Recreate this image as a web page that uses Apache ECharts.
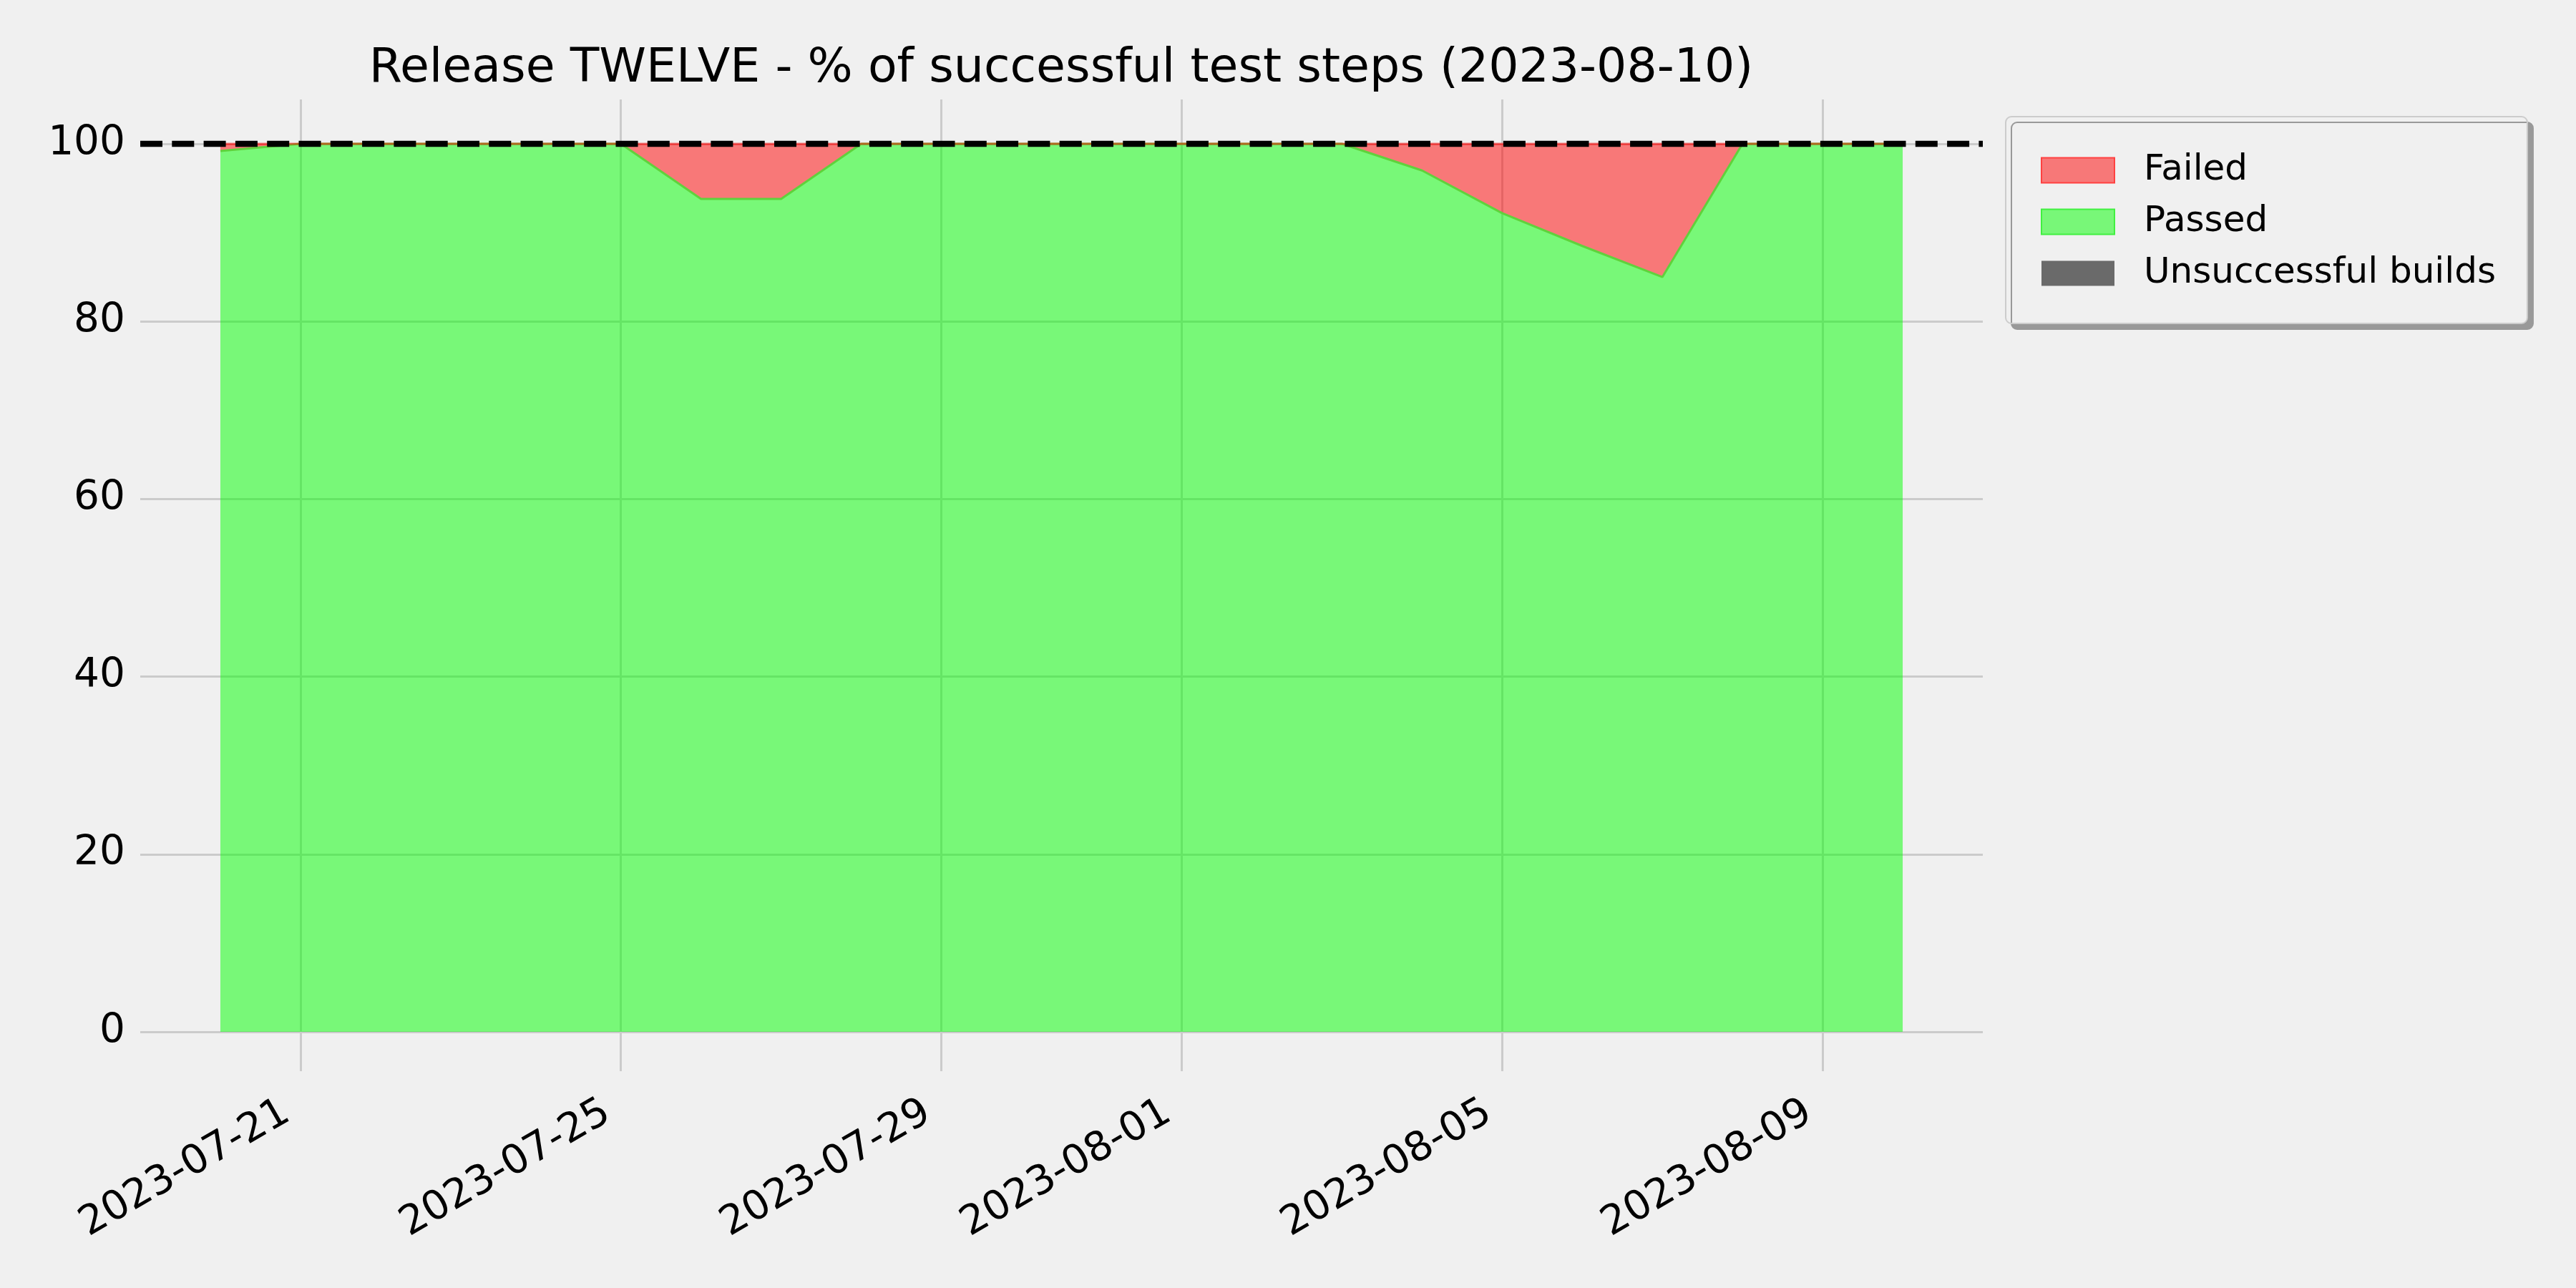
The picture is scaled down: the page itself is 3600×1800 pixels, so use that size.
<!DOCTYPE html>
<html>
<head>
<meta charset="utf-8">
<script src="https://cdn.jsdelivr.net/npm/echarts@6/dist/echarts.min.js"></script>
<style>
html,body{margin:0;padding:0;background:#f0f0f0;}
#chart{width:3600px;height:1800px;}
</style>
</head>
<body>
<div id="chart"></div>
<script>
// ---- data ----
const dates = ['2023-07-20','2023-07-21','2023-07-22','2023-07-23','2023-07-24','2023-07-25','2023-07-26','2023-07-27','2023-07-28','2023-07-29','2023-07-30','2023-07-31','2023-08-01','2023-08-02','2023-08-03','2023-08-04','2023-08-05','2023-08-06','2023-08-07','2023-08-08','2023-08-09','2023-08-10'];
const passedPct = [99.2,100,100,100,100,100,93.8,93.8,100,100,100,100,100,100,100,97.0,92.2,88.5,85.0,100,100,100];
const failedPct = [0.8,0,0,0,0,0,6.2,6.2,0,0,0,0,0,0,0,3.0,7.8,11.5,15.0,0,0,0];
const unsuccessfulBuilds = [0,0,0,0,0,0,0,0,0,0,0,0,0,0,0,0,0,0,0,0,0,0];
const xTickLabels = ['2023-07-21','2023-07-25','2023-07-29','2023-08-01','2023-08-05','2023-08-09'];
const xRange = ['2023-07-19','2023-08-11'];
const yTickValues = [0,20,40,60,80,100];
const yMax = 105;
const targetPct = 100;
const titleText = 'Release TWELVE - % of successful test steps (2023-08-10)';
const legendNames = ['Failed','Passed','Unsuccessful builds'];

function ts(s){ const p = s.split('-').map(Number); return Date.UTC(p[0], p[1]-1, p[2]); }
function fmt(v){
  const d = new Date(v);
  return d.getUTCFullYear() + '-' + String(d.getUTCMonth()+1).padStart(2,'0') + '-' + String(d.getUTCDate()).padStart(2,'0');
}
const FONT = 'DejaVu Sans';
const xTicks = xTickLabels.map(ts);
// value first so the stack sums the percentage (dimension 0), date second
const toPoints = arr => dates.map((d,i) => [arr[i], ts(d)]);

const chart = echarts.init(document.getElementById('chart'), null, {renderer:'canvas', width:3600, height:1800});
chart.setOption({
  animation: false,
  backgroundColor: '#f0f0f0',
  textStyle: {fontFamily: FONT},
  graphic: [{
    type: 'text', x: 1483, y: 97,
    style: {text: titleText, font: '66.5px "DejaVu Sans"', fill: '#000', align: 'center', verticalAlign: 'middle'}
  }],
  grid: {left: 196, right: 829, top: 139, bottom: 358, containLabel: false, outerBoundsMode: 'none'},
  legend: {
    orient: 'vertical', left: 2803, top: 163,
    padding: [50, 44, 45, 49],
    itemWidth: 102, itemHeight: 35, itemGap: 22,
    icon: 'rect',
    backgroundColor: '#f0f0f0', borderColor: '#cccccc', borderWidth: 2, borderRadius: 8,
    shadowColor: '#999999', shadowOffsetX: 8, shadowOffsetY: 8, shadowBlur: 0,
    textStyle: {fontFamily: FONT, fontSize: 50, color: '#000', padding: [0,0,0,36]},
    data: [
      {name: legendNames[0], itemStyle: {color: '#f77878', borderColor: '#ff4040', borderWidth: 2}},
      {name: legendNames[1], itemStyle: {color: '#78f778', borderColor: '#40f040', borderWidth: 2}},
      {name: legendNames[2], itemStyle: {color: '#6a6a6a', borderWidth: 0}}
    ]
  },
  xAxis: {
    type: 'value', min: ts(xRange[0]), max: ts(xRange[1]),
    axisLine: {show: false},
    axisTick: {show: true, length: 55, lineStyle: {color: '#cbcbcb', width: 3}, customValues: xTicks},
    splitLine: {show: true, lineStyle: {color: '#cbcbcb', width: 3}},
    axisLabel: {customValues: xTicks, formatter: v => fmt(v), rotate: 30, margin: 98, padding: [0,22,0,0],
      fontFamily: FONT, fontSize: 56.5, color: '#000', hideOverlap: false}
  },
  yAxis: {
    type: 'value', min: 0, max: yMax,
    axisLine: {show: false},
    axisTick: {show: false, customValues: yTickValues},
    splitLine: {show: true, lineStyle: {color: '#cbcbcb', width: 3}},
    axisLabel: {customValues: yTickValues, margin: 21, fontFamily: FONT, fontSize: 56.5, color: '#000'}
  },
  series: [
    {
      name: 'Passed', type: 'line', stack: 'total', symbol: 'none',
      encode: {x: 1, y: 0},
      data: toPoints(passedPct),
      itemStyle: {color: '#78f778'},
      lineStyle: {color: '#5fd23c', width: 3},
      areaStyle: {color: 'rgba(0,255,0,0.5)', opacity: 1},
      z: 2
    },
    {
      name: 'Failed', type: 'line', stack: 'total', symbol: 'none',
      encode: {x: 1, y: 0},
      data: toPoints(failedPct),
      itemStyle: {color: '#f77878'},
      lineStyle: {color: 'rgba(255,0,0,0.5)', width: 3},
      areaStyle: {color: 'rgba(255,0,0,0.5)', opacity: 1},
      z: 2
    },
    {
      name: 'Unsuccessful builds', type: 'line', stack: 'total', symbol: 'none',
      encode: {x: 1, y: 0},
      data: toPoints(unsuccessfulBuilds),
      itemStyle: {color: '#6a6a6a'},
      lineStyle: {width: 0, opacity: 0},
      areaStyle: {color: '#6a6a6a', opacity: 1},
      z: 3,
      markLine: {
        silent: true, symbol: ['none','none'], z: 10,
        label: {show: false},
        lineStyle: {color: '#000', width: 8.3, type: [31, 13.3]},
        data: [{yAxis: targetPct}]
      }
    }
  ]
});
</script>
</body>
</html>
